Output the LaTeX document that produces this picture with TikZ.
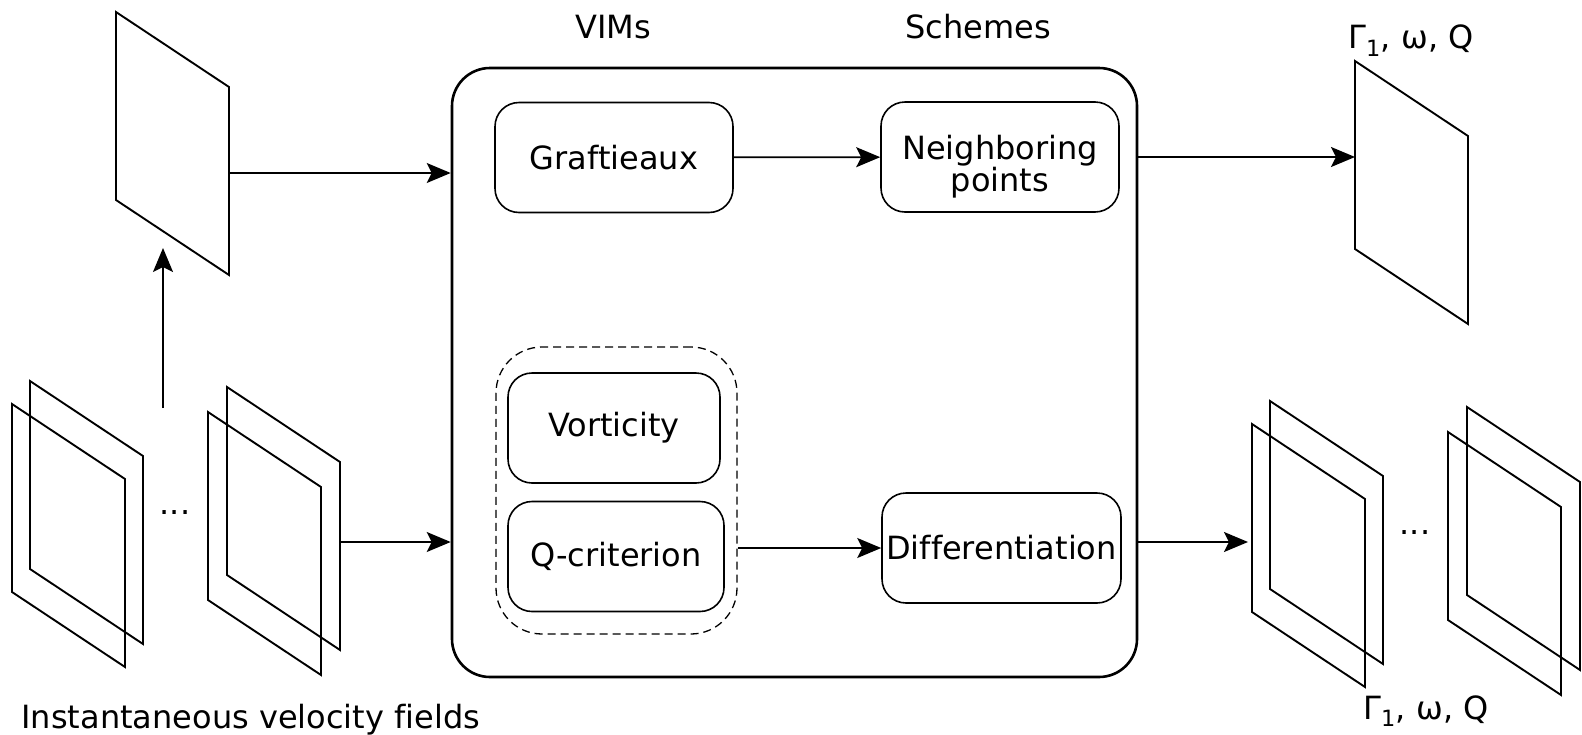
\documentclass[tikz,border=0pt]{standalone}
\usepackage{fontspec}
\setmainfont[Ligatures=NoCommon]{DejaVu Sans}
\usepackage{tikz}
\usetikzlibrary{arrows.meta}
\tikzset{
    every node/.style={font=\fontsize{32}{37}\selectfont},
    every label/.style={font=\fontsize{32}{23}\selectfont},
    box/.style={draw,line width=1.6pt,rounded corners=24pt,minimum width=238pt,minimum height=110pt,inner sep=0pt,align=center},
    bigbox/.style={draw,line width=2.6pt,rounded corners=38pt,minimum width=685pt,minimum height=609pt},
    group/.style={draw,line width=1.3pt,dash pattern=on 8pt off 5pt,rounded corners=46pt,minimum width=241pt,minimum height=287pt},
    arr/.style={-{Stealth[length=24pt,width=20pt,inset=5pt]},line width=1.8pt},
    field/.style={line width=1.9pt,line join=miter}
}

\begin{document}
\begin{tikzpicture}[x=1pt,y=-1pt]
    \useasboundingbox (0,0) rectangle (1582,734);

    % Velocity field frames (top-left corners)
    \foreach \x/\y in {116/12, 30/381, 12/404, 227/387, 208/412, 1355/61, 1270/401, 1252/424, 1467/407, 1448/432}
        \draw[field] (\x,\y) -- ++(113,75) -- ++(0,188) -- ++(-113,-75) -- cycle;

    % Processing block
    \node[bigbox] (main) at (794.5,372.5) {};
    \node[group] (dash) at (616.5,490.5) {};
    \node[box] (graf) at (614,157.5) {Graftieaux};
    \node[box,label={[align=center,yshift=-10pt]center:Neighboring\\points}] (neigh) at (1000,157) {};
    \node[box,minimum width=212pt] (vort) at (614,428) {Vorticity};
    \node[box,minimum width=216pt] (qcrit) at (616,556.5) {Q-criterion};
    \node[box,minimum width=239pt] (diff) at (1001.5,548) {Differentiation};

    % Labels
    \node (vims) at (613,27) {VIMs};
    \node (schemes) at (978,27) {Schemes};
    \node (outlabel) at (1411,41) {Γ\textsubscript{1}, ω, Q};
    \node (stacklabel) at (1426,711) {Γ\textsubscript{1}, ω, Q};
    \node[anchor=base west] (inlabel) at (18,728) {Instantaneous velocity fields};
    \node (indots) at (175,513) {...};
    \node (outdots) at (1415,533) {...};

    % Connectors
    \coordinate (topfield-e) at (229,173);
    \coordinate (topfield-s) at (163,248);
    \coordinate (stack-n) at (163,408);
    \coordinate (stack-e) at (340,542);
    \coordinate (outfield-w) at (1355,157);
    \coordinate (outstack-w) at (1248,542);
    \draw[arr] (topfield-e) -- (topfield-e -| main.west);
    \draw[arr] (stack-n) -- (topfield-s);
    \draw[arr] (stack-e) -- (stack-e -| main.west);
    \draw[arr] (graf) -- (neigh);
    \draw[arr] (dash.east |- diff.west) -- (diff.west);
    \draw[arr] (outfield-w -| main.east) -- (outfield-w);
    \draw[arr] (outstack-w -| main.east) -- (outstack-w);
\end{tikzpicture}
\end{document}
